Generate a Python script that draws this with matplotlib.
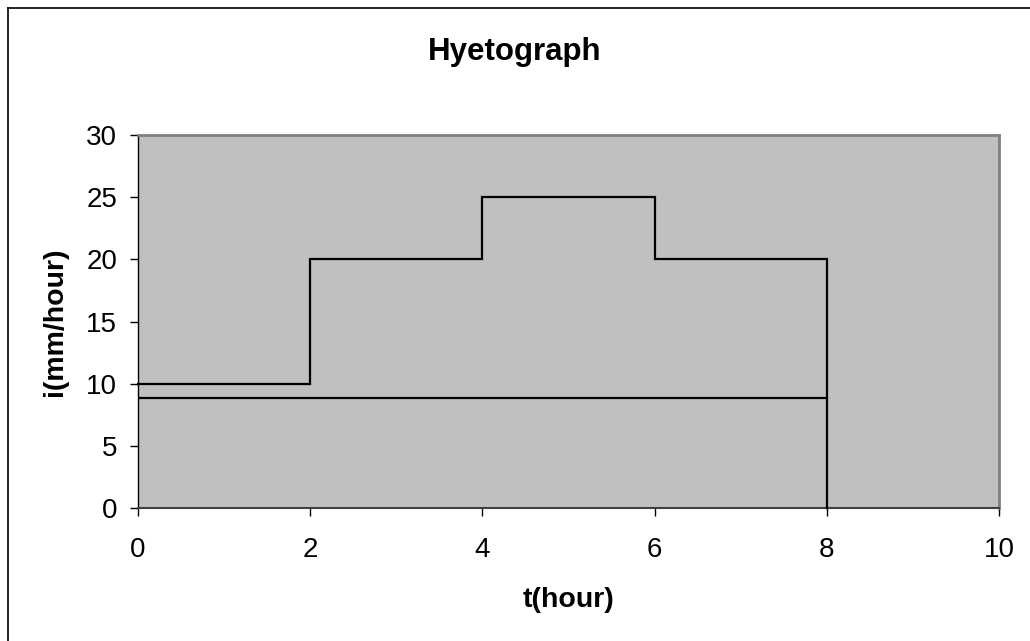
import matplotlib
matplotlib.use("Agg")
import matplotlib.pyplot as plt
from matplotlib.lines import Line2D

# hyetograph data
t_edges = [0, 2, 4, 6, 8]          # hour
intensity = [10, 20, 25, 20]       # mm/hour
phi_index = 8.83                   # mm/hour

plt.rcParams['font.family'] = ['Liberation Sans', 'DejaVu Sans']

fig = plt.figure(figsize=(10.30, 6.41), dpi=100)
ax = fig.add_axes([138 / 1030, 1 - 508 / 641, (999 - 138) / 1030, (508 - 135) / 641])
ax.set_facecolor('#c0c0c0')

# step outline, closing down to zero at the end
xs = [t_edges[0]]
ys = [intensity[0]]
for k in range(len(intensity)):
    xs += [t_edges[k + 1], t_edges[k + 1]]
    nxt = intensity[k + 1] if k + 1 < len(intensity) else 0
    ys += [intensity[k], nxt]
ax.plot(xs, ys, color='black', lw=1.6, solid_joinstyle='miter', clip_on=False, zorder=3)

ax.plot([t_edges[0], t_edges[-1]], [phi_index, phi_index], color='black', lw=1.6, zorder=3)

ax.set_xlim(0, 10)
ax.set_ylim(0, 30)
ax.set_xticks(range(0, 11, 2))
ax.set_yticks(range(0, 31, 5))
ax.tick_params(direction='out', length=6, width=1, labelsize=20, colors='black')
ax.tick_params(axis='x', pad=15)
ax.tick_params(axis='y', pad=9)

for side in ['top', 'right']:
    ax.spines[side].set_color('#808080')
    ax.spines[side].set_linewidth(2)
ax.spines['left'].set_color('black')
ax.spines['bottom'].set_color('#404040')
ax.spines['left'].set_linewidth(1)
ax.spines['bottom'].set_linewidth(1.5)

ax.set_xlabel('t(hour)', fontsize=20.5, fontweight='bold', va='center')
ax.set_ylabel('i(mm/hour)', fontsize=20.5, fontweight='bold', va='center', ha='center')
ax.xaxis.set_label_coords(0.5, (508 - 600) / 373)
ax.yaxis.set_label_coords((55 - 138) / 861, 0.5)
fig.text(0.5, 1 - 52 / 641, 'Hyetograph', ha='center', va='center', fontsize=22.5, fontweight='bold')

# chart area border (top and left visible)
fig.add_artist(Line2D([7.5 / 1030, 1.0], [1 - 7.5 / 641] * 2, transform=fig.transFigure, color='black', lw=1.2))
fig.add_artist(Line2D([7.5 / 1030] * 2, [0.0, 1 - 7.5 / 641], transform=fig.transFigure, color='black', lw=1.2))

fig.savefig('out.png', dpi=100)
